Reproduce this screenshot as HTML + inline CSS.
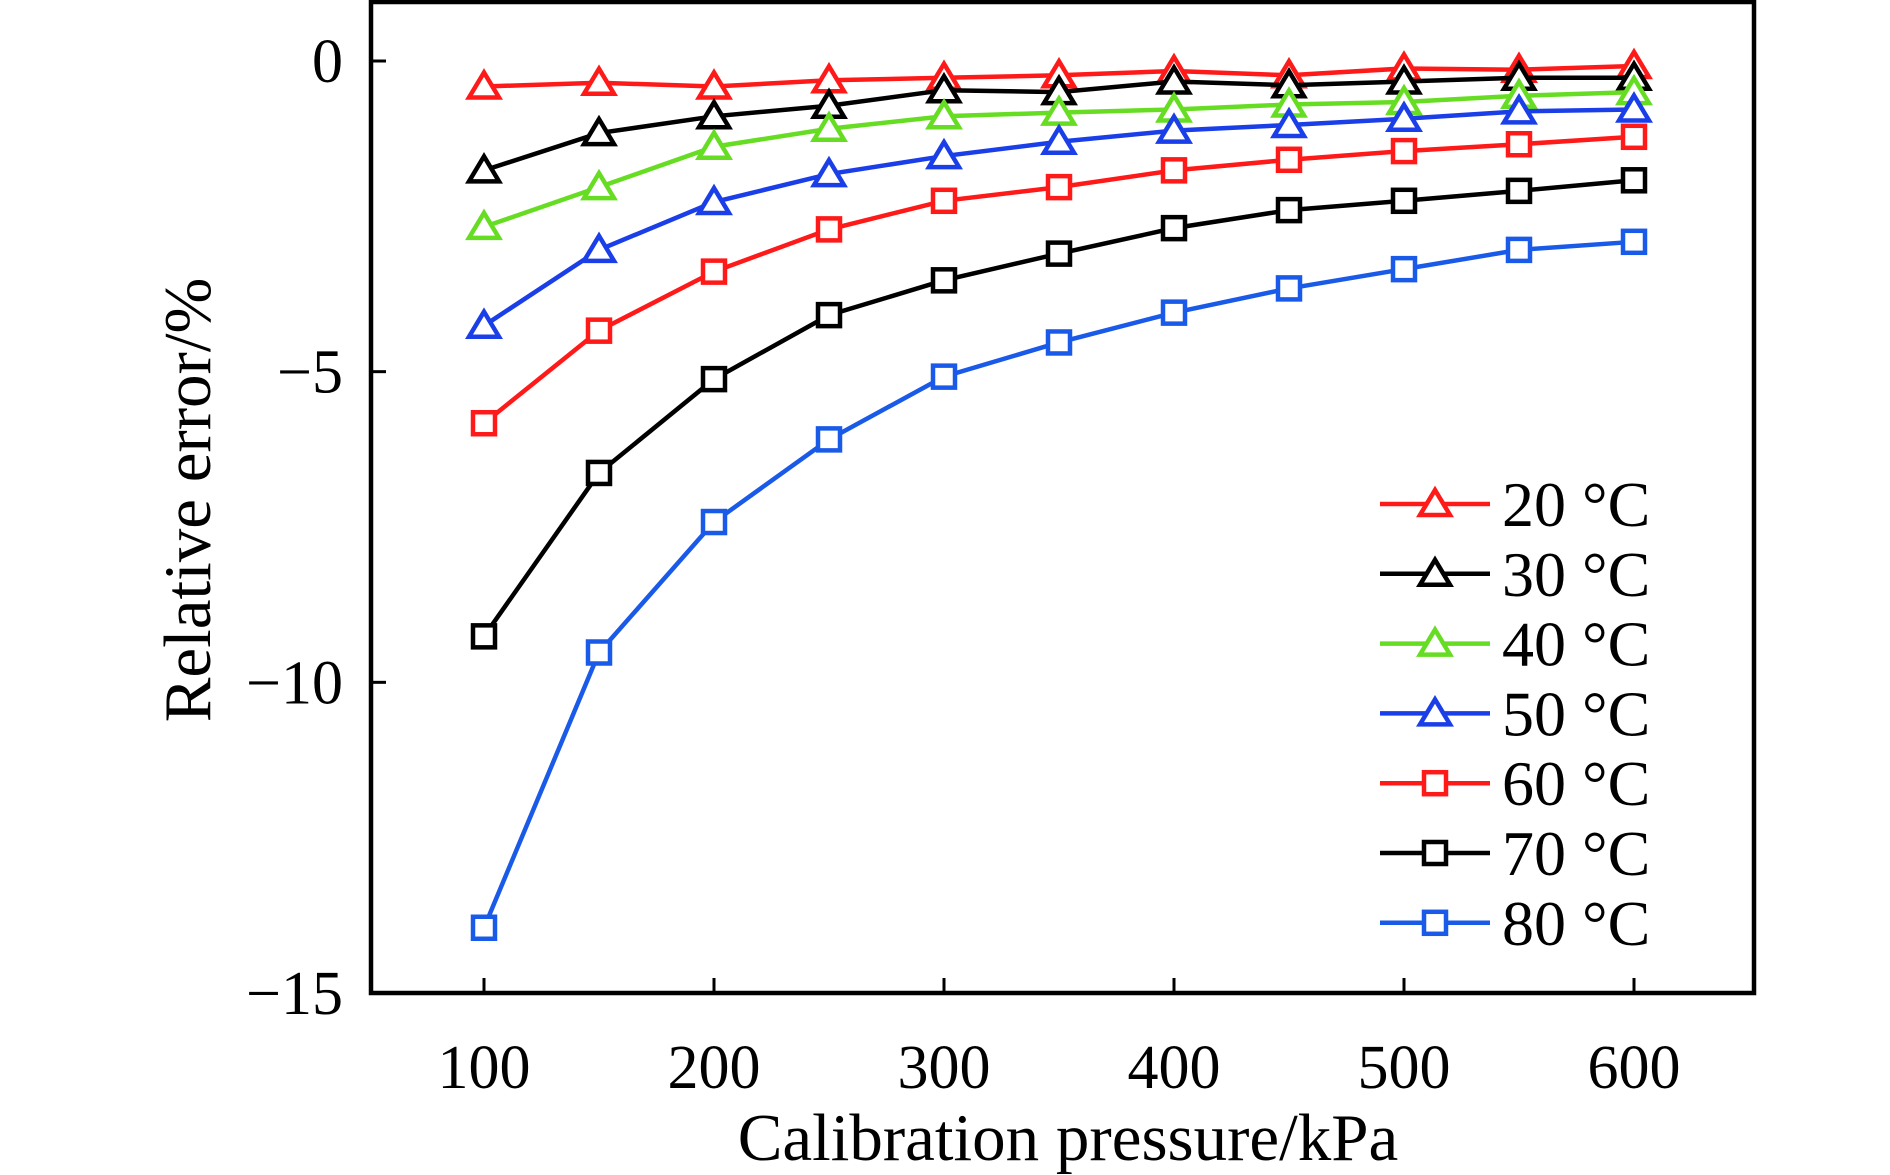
<!DOCTYPE html>
<html><head><meta charset="utf-8"><style>
html,body{margin:0;padding:0;background:#fff;}
svg{display:block;font-family:"Liberation Serif",serif;}
</style></head><body>
<svg id="chart" width="1890" height="1175" viewBox="0 0 1890 1175" xmlns="http://www.w3.org/2000/svg">
<g id="axes"></g>
<g id="series"></g>
<g id="legend"></g>
</svg>
<script>
const pressures = [100,150,200,250,300,350,400,450,500,550,600];
const err20 = [-0.41,-0.35,-0.41,-0.31,-0.27,-0.23,-0.16,-0.23,-0.12,-0.14,-0.08];
const err30 = [-1.76,-1.16,-0.89,-0.72,-0.47,-0.50,-0.33,-0.39,-0.33,-0.27,-0.27];
const err40 = [-2.67,-2.03,-1.38,-1.09,-0.89,-0.83,-0.78,-0.70,-0.66,-0.56,-0.50];
const err50 = [-4.26,-3.04,-2.27,-1.82,-1.53,-1.30,-1.12,-1.03,-0.93,-0.81,-0.78];
const err60 = [-5.83,-4.34,-3.39,-2.71,-2.25,-2.03,-1.76,-1.59,-1.45,-1.34,-1.22];
const err70 = [-9.26,-6.63,-5.12,-4.09,-3.53,-3.10,-2.69,-2.40,-2.25,-2.09,-1.92];
const err80 = [-13.95,-9.52,-7.42,-6.09,-5.08,-4.53,-4.05,-3.66,-3.35,-3.04,-2.91];
const seriesLabels = ["20 °C","30 °C","40 °C","50 °C","60 °C","70 °C","80 °C"];
const xTicks = [100,200,300,400,500,600];
const yTicks = [0,-5,-10,-15];
const yTickLabels = ["0","\u22125","\u221210","\u221215"];

const NS="http://www.w3.org/2000/svg";
const L=371,R=1754,T=2,B=993;
function xs(v){return 484+(v-100)*(1634-484)/500;}
function ys(v){return 61+(0-v)*(B-61)/15;}
function mk(tag,attrs,parent){const e=document.createElementNS(NS,tag);for(const k in attrs)e.setAttribute(k,attrs[k]);parent.appendChild(e);return e;}

const axes=document.getElementById('axes');
const frame=mk('rect',{x:L,y:T,width:R-L,height:B-T,fill:'none',stroke:'#000','stroke-width':4.5},axes);


xTicks.forEach(v=>{
  const t=mk('line',{x1:xs(v),x2:xs(v),y1:B,y2:B-15,stroke:'#000','stroke-width':3},axes);
  
  
  const l=mk('text',{x:xs(v),y:1088,'font-size':62,'text-anchor':'middle'},axes);
  l.textContent=v;
  
  
});
yTicks.forEach((v,i)=>{
  const t=mk('line',{x1:L,x2:L+15,y1:ys(v),y2:ys(v),stroke:'#000','stroke-width':3},axes);
  
  
  const l=mk('text',{x:343,y:ys(v)+21,'font-size':62,'text-anchor':'end'},axes);
  l.textContent=yTickLabels[i];
  
  
});
const xt=mk('text',{x:1068,y:1160,'font-size':67,'text-anchor':'middle'},axes);
xt.textContent='Calibration pressure/kPa';


const yt=mk('text',{x:0,y:0,'font-size':67,'text-anchor':'middle',transform:'translate(210,500) rotate(-90)'},axes);
yt.textContent='Relative error/%';



const all=[err20,err30,err40,err50,err60,err70,err80];
const colors=['#ff1a1a','#000','#66dd22','#1a3ee8','#ff1a1a','#000','#1a5ae8'];
const shapes=['tri','tri','tri','tri','sq','sq','sq'];
function marker(x,y,shape,color,parent){
  if(shape==='tri'){
    return mk('polygon',{points:`${x},${y-14} ${x-15},${y+11} ${x+15},${y+11}`,fill:'#fff',stroke:color,'stroke-width':4.5},parent);
  }
  return mk('rect',{x:x-11,y:y-11,width:22,height:22,fill:'#fff',stroke:color,'stroke-width':4.5},parent);
}
const sg=document.getElementById('series');
all.forEach((arr,si)=>{
  const g=mk('g',{},sg);
  
  
  const pts=arr.map((v,i)=>xs(pressures[i])+','+ys(v)).join(' ');
  const pl=mk('polyline',{points:pts,fill:'none',stroke:colors[si],'stroke-width':4.5},g);
  
  
  arr.forEach((v,i)=>{
    const m=marker(xs(pressures[i]),ys(v),shapes[si],colors[si],g);
    
    
  });
});
const lg=document.getElementById('legend');


seriesLabels.forEach((lab,i)=>{
  const y=504+i*69.8;
  const g=mk('g',{},lg);
  
  
  mk('line',{x1:1380,x2:1490,y1:y,y2:y,stroke:colors[i],'stroke-width':4.5},g);
  marker(1435,y,shapes[i],colors[i],g);
  const t=mk('text',{x:1502,y:y+22,'font-size':64},g);
  t.textContent=lab;
});
</script>
</body></html>
